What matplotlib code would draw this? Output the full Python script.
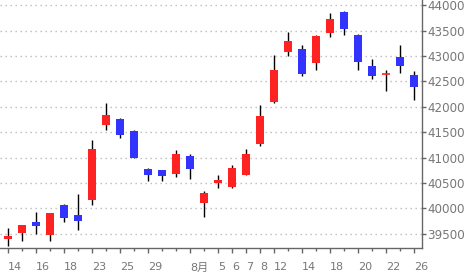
import numpy as np
import matplotlib
matplotlib.use('Agg')
from matplotlib import pyplot as plt

plt.rcParams['font.family'] = ['DejaVu Sans', 'Noto Sans CJK JP']

# trading days, Jul 14 .. Aug 26
DATES = ['7/14', '7/15', '7/16', '7/17', '7/18', '7/22', '7/23', '7/24', '7/25',
         '7/28', '7/29', '7/30', '7/31', '8/1', '8/4', '8/5', '8/6', '8/7', '8/8',
         '8/12', '8/13', '8/14', '8/15', '8/18', '8/19', '8/20', '8/21', '8/22',
         '8/25', '8/26']
OPEN  = [39394, 39519, 39729, 39473, 40065, 39867, 40163, 41641, 41760, 41523,
         40774, 40754, 40681, 41030, 40104, 40498, 40419, 40662, 41267, 42095,
         43080, 43139, 42869, 43461, 43869, 43421, 42804, 42641, 42982, 42627]
HIGH  = [39617, 39664, 39927, 39910, 40084, 40287, 41346, 42075, 41779, 41543,
         40794, 40760, 41149, 41070, 40340, 40656, 40853, 41169, 42036, 43021,
         43480, 43218, 43421, 43849, 43888, 43441, 42948, 42725, 43224, 42706]
LOW   = [39256, 39361, 39499, 39361, 39729, 39572, 40065, 41543, 41385, 40985,
         40538, 40538, 40622, 40577, 39828, 40400, 40400, 40655, 41227, 42075,
         43001, 42607, 42725, 43382, 43421, 42725, 42548, 42311, 42672, 42134]
CLOSE = [39454, 39664, 39657, 39907, 39808, 39749, 41168, 41838, 41444, 40991,
         40656, 40636, 41070, 40774, 40301, 40557, 40794, 41070, 41819, 42725,
         43297, 42647, 43396, 43731, 43533, 42883, 42607, 42641, 42804, 42390]

LABEL_DATES = ['7/14', '7/16', '7/18', '7/23', '7/25', '7/29', '8/1', '8/5', '8/6',
               '8/7', '8/8', '8/12', '8/14', '8/18', '8/20', '8/22', '8/26']
Y_TICKS = [39500, 40000, 40500, 41000, 41500, 42000, 42500, 43000, 43500, 44000]

UP = '#ff2222'
DOWN = '#3333ff'
GREY = '#777777'

o = np.array(OPEN, float)
h = np.array(HIGH, float)
l = np.array(LOW, float)
c = np.array(CLOSE, float)
x = np.arange(len(DATES))

fig = plt.figure(figsize=(4.7, 2.78), dpi=100)
ax = fig.add_axes([0.0, 0.109, 0.897, 0.891])

ax.vlines(x, l, h, color='black', lw=1.0, zorder=2)
cols = np.where(c >= o, UP, DOWN)
body = np.abs(c - o)
flat = body == 0
ax.bar(x[~flat], body[~flat], bottom=np.minimum(o, c)[~flat], width=0.62,
       color=cols[~flat], linewidth=0, zorder=3)
ax.hlines(c[flat], x[flat] - 0.31, x[flat] + 0.31, color=UP, lw=1.2, zorder=3)

ax.set_xlim(-0.57, 29.55)
ax.set_ylim(39224, 44105)

ax.yaxis.tick_right()
ax.set_yticks(Y_TICKS)
ax.set_yticklabels([str(v) for v in Y_TICKS])
ax.grid(axis='y', color='#bbbbbb', lw=1.0, linestyle=(0, (1, 2.6)), zorder=0)

lab_idx = [DATES.index(d) for d in LABEL_DATES]
lab_txt = ['8月' if d == '8/1' else d.split('/')[1] for d in LABEL_DATES]
ax.set_xticks(lab_idx)
ax.set_xticklabels(lab_txt)
ax.set_xticks(x, minor=True)
plt.setp(ax.get_xticklabels(), ha='left')

for s in ['top', 'left']:
    ax.spines[s].set_visible(False)
for s in ['right', 'bottom']:
    ax.spines[s].set_color('#666666')
    ax.spines[s].set_linewidth(1.0)

ax.tick_params(axis='y', which='both', direction='out', length=3, width=1,
               color='#666666', labelcolor=GREY, labelsize=8.6, pad=1)
ax.tick_params(axis='x', which='major', direction='out', length=3.6, width=1,
               color='#666666', labelcolor=GREY, labelsize=8, pad=7)
ax.tick_params(axis='x', which='minor', direction='out', length=2, width=1,
               color='#666666')

fig.savefig('out.png', dpi=100)
